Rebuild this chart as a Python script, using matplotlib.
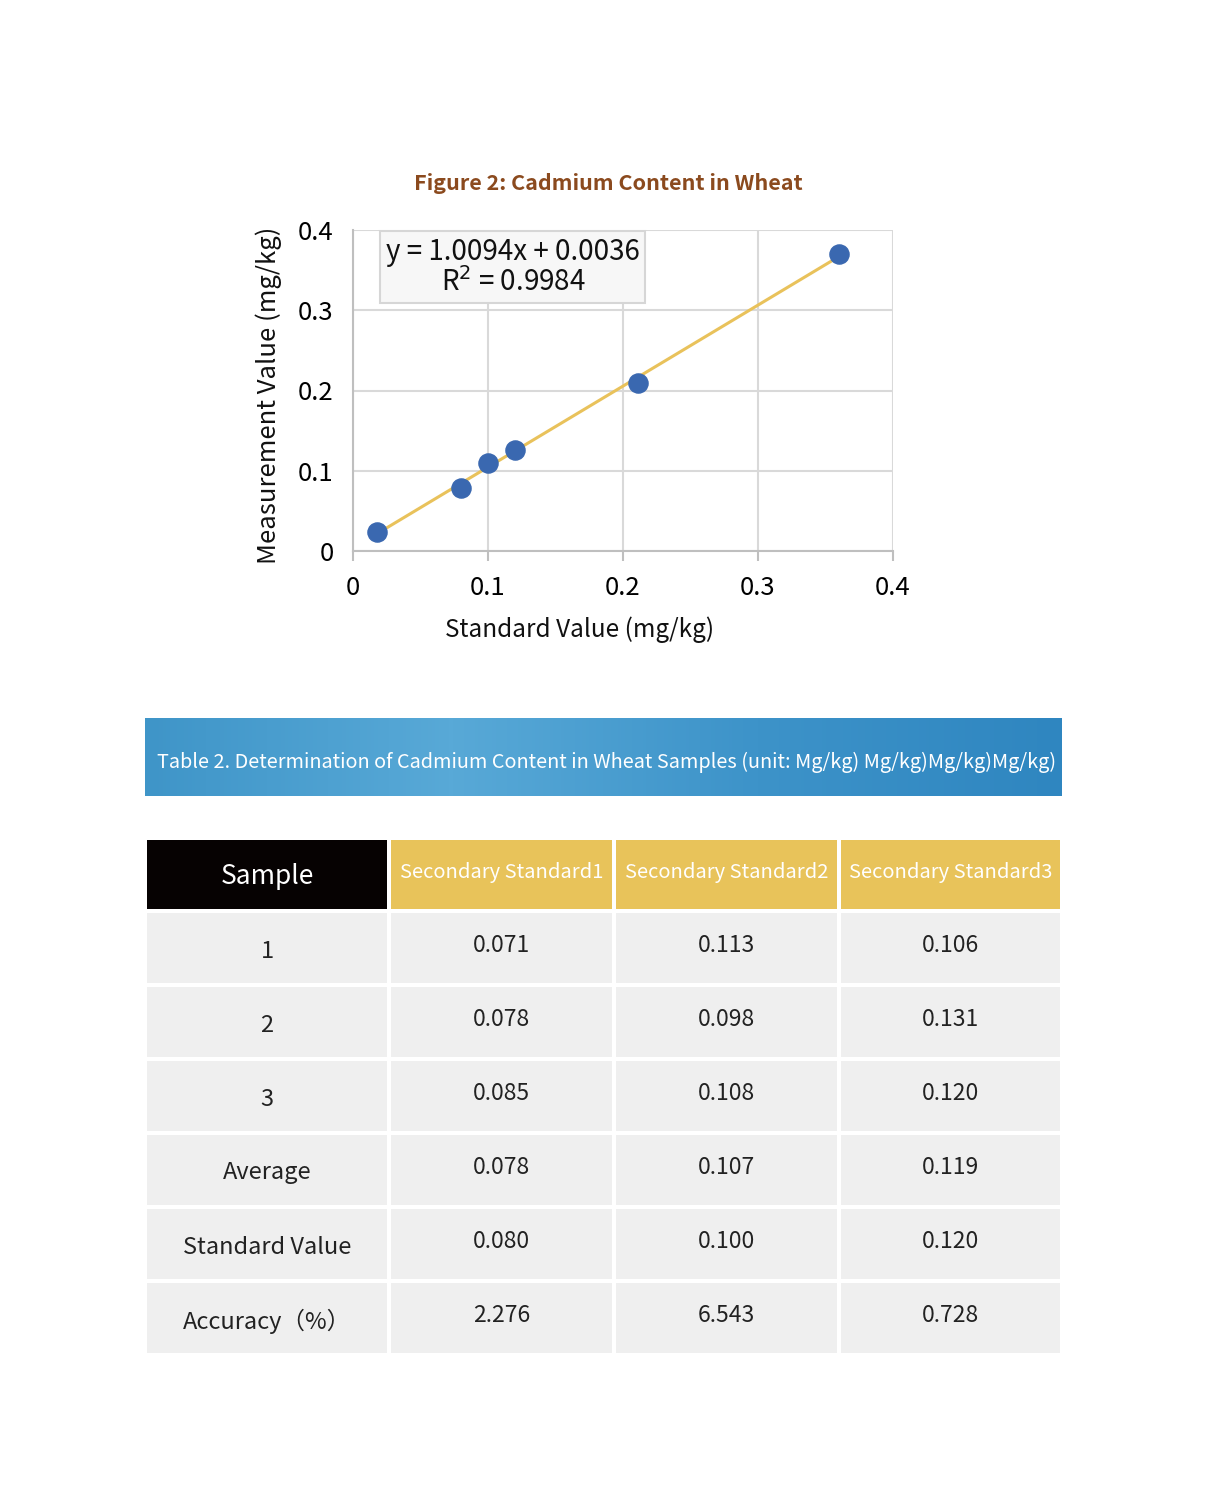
import numpy as np
import matplotlib
matplotlib.use('Agg')
import matplotlib.pyplot as plt
from matplotlib.patches import Rectangle
from matplotlib.colors import LinearSegmentedColormap

plt.rcParams['font.family'] = ['Noto Sans CJK SC', 'DejaVu Sans']

# Scatter data (standard vs measured, mg/kg)
standard = [0.018, 0.080, 0.100, 0.120, 0.211, 0.360]
measured = [0.024, 0.078, 0.110, 0.126, 0.209, 0.370]
slope, intercept = 1.0094, 0.0036
ticks = [0, 0.1, 0.2, 0.3, 0.4]

# Table data
col_headers = ['Sample', 'Secondary Standard1', 'Secondary Standard2', 'Secondary Standard3']
row_labels = ['1', '2', '3', 'Average', 'Standard Value', 'Accuracy（%）']
std1 = ['0.071', '0.078', '0.085', '0.078', '0.080', '2.276']
std2 = ['0.113', '0.098', '0.108', '0.107', '0.100', '6.543']
std3 = ['0.106', '0.131', '0.120', '0.119', '0.120', '0.728']

W, H = 1207, 1496
fig = plt.figure(figsize=(W / 100, H / 100), dpi=100)

# ---- scatter plot ----
ax = fig.add_axes([353 / W, 1 - 551 / H, 540 / W, 321 / H])
ax.set_xlim(0, 0.4)
ax.set_ylim(0, 0.4)
ax.set_xticks(ticks)
ax.set_yticks(ticks)
ax.set_xticklabels(['0', '0.1', '0.2', '0.3', '0.4'])
ax.set_yticklabels(['0', '0.1', '0.2', '0.3', '0.4'])
ax.grid(True, color='#d9d9d9', lw=1.5)
ax.set_axisbelow(True)
for s in ['top', 'right']:
    ax.spines[s].set_visible(False)
for s in ['left', 'bottom']:
    ax.spines[s].set_color('#bfbfbf')
    ax.spines[s].set_linewidth(1.5)
ax.tick_params(axis='x', length=7, color='#bfbfbf', width=1.5, labelsize=18.5, pad=10)
ax.tick_params(axis='y', length=0, labelsize=18.5, pad=14)

xs = np.array([standard[0], standard[-1]])
ax.plot(xs, slope * xs + intercept, color='#e9c25b', lw=2.2, zorder=2)
ax.scatter(standard, measured, s=190, color='#3a68b0', zorder=3, clip_on=False)

ax.text(0.1185, 0.3535, 'y = 1.0094x + 0.0036\nR$^2$ = 0.9984', ha='center', va='center',
        fontsize=20, color='#111111', linespacing=1.05,
        bbox=dict(boxstyle='square,pad=0.2', facecolor='#f7f7f7', edgecolor='#d6d6d6', lw=1.5))

ax.set_xlabel('Standard Value (mg/kg)', fontsize=17.5, color='#111111')
ax.xaxis.set_label_coords(0.42, -0.205)
ax.set_ylabel('Measurement Value (mg/kg)', fontsize=18.5, color='#111111')
ax.yaxis.set_label_coords(-0.131, 0.485)

fig.text(608 / W, 1 - 183 / H, 'Figure 2: Cadmium Content in Wheat', ha='center', va='center',
         fontsize=15.5, color='#8b4a1e', fontweight='bold')

# ---- table section ----
tax = fig.add_axes([0, 0, 1, 1])
tax.set_xlim(0, W)
tax.set_ylim(H, 0)
tax.axis('off')

# banner with gradient
cmap = LinearSegmentedColormap.from_list('band', ['#3f95c8', '#58a9d7', '#3d93c9', '#2f86c0'])
grad = np.linspace(0, 1, 256).reshape(1, -1)
tax.imshow(grad, cmap=cmap, extent=[145, 1062, 796, 718], aspect='auto', zorder=1)
tax.text(607, 762, 'Table 2. Determination of Cadmium Content in Wheat Samples (unit: Mg/kg) Mg/kg)Mg/kg)Mg/kg)',
         ha='center', va='center', fontsize=14.3, color='white', zorder=2)

col_x = [(147, 387), (391, 612), (616, 837), (841, 1060)]
row_y = [(913, 983), (987, 1057), (1061, 1131), (1135, 1205), (1209, 1279), (1283, 1353)]

# header
for j, (x0, x1) in enumerate(col_x):
    fc = '#060202' if j == 0 else '#e8c35a'
    tax.add_patch(Rectangle((x0, 840), x1 - x0, 69, facecolor=fc, edgecolor='none'))
    fs = 19 if j == 0 else 14.5
    tax.text((x0 + x1) / 2, 876 if j == 0 else 872, col_headers[j], ha='center', va='center',
             fontsize=fs, color='white', fontweight='medium' if j else 'normal')

cols = [row_labels, std1, std2, std3]
for i, (y0, y1) in enumerate(row_y):
    for j, (x0, x1) in enumerate(col_x):
        tax.add_patch(Rectangle((x0, y0), x1 - x0, y1 - y0, facecolor='#efefef', edgecolor='none'))
        yc = (y0 + y1) / 2 + (3 if j == 0 else -3)
        tax.text((x0 + x1) / 2, yc, cols[j][i], ha='center', va='center',
                 fontsize=17 if j == 0 else 16.5, color='#222222', fontweight='light')

fig.savefig('out.png', dpi=100)
